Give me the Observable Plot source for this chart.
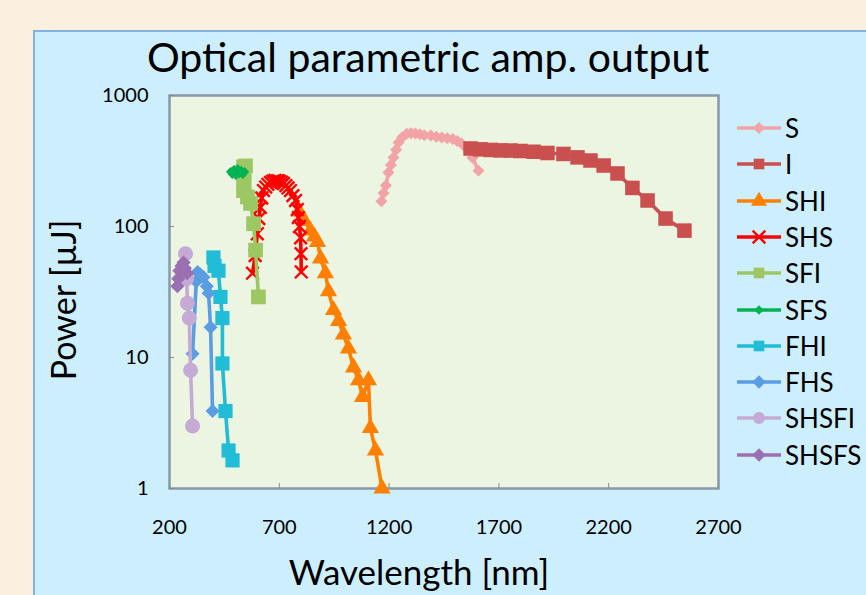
<!DOCTYPE html>
<html>
<head>
<meta charset="utf-8">
<script src="https://cdn.jsdelivr.net/npm/d3@7"></script>
<script src="https://cdn.jsdelivr.net/npm/@observablehq/plot@0.6"></script>
<style>
html,body{margin:0;padding:0;width:866px;height:595px;overflow:hidden;background:#fbefdf;font-family:Lato,"Open Sans",sans-serif;}
#panel{position:absolute;left:33px;top:30px;width:850px;height:590px;background:#cdeefd;border:2px solid #82b3df;box-sizing:border-box;}
#chart{position:absolute;left:0;top:0;}
#title{position:absolute;left:0;width:856px;top:36px;text-align:center;font-size:41px;line-height:41px;color:#000;}
#legend{position:absolute;left:736px;top:0;}
.row{position:absolute;left:0;height:26px;display:flex;align-items:center;white-space:nowrap;font-size:26px;color:#000;}
.row svg{display:block;margin-right:3px;}
</style>
</head>
<body>
<div id="panel"></div>
<div id="chart"></div>
<div id="title">Optical parametric amp. output</div>
<div id="legend"></div>
<script>
// ---- data (wavelength nm, power µJ) ----
const seriesNames = ["S","I","SHI","SHS","SFI","SFS","FHI","FHS","SHSFI","SHSFS"];

const sX = [1165,1175,1185,1197,1208,1220,1232,1243,1260,1280,1300,1320,1340,1360,1390,1415,1440,1465,1490,1510,1530,1555,1580,1607];
const sY = [156,180,206,258,295,336,385,437,480,510,515,512,505,498,495,485,478,472,465,450,430,390,335,267];

const iX = [1571,1616,1662,1707,1753,1798,1858,1921,1994,2058,2117,2177,2240,2308,2377,2459,2545];
const iY = [394,388,384,381,380,377,372,364,358,337,319,292,254,197,158,115,93];

const shiX = [790,815,842,860,874,888,910,924,947,970,992,1015,1038,1061,1079,1106,1115,1138,1168];
const shiY = [130,110,93,84,76,57,44,32,23,19,15,11.7,8.4,6.7,5.0,6.7,2.9,1.95,1.0];

const shsX = [578,590,600,607,614,620,628,638,648,660,670,680,692,700,710,719,730,740,751,762,774,782,787,792,797,799,800];
const shsY = [44,60,88,115,140,165,188,200,210,217,222,225,224,222,218,213,205,197,188,172,158,135,117,100,82,62,45];

const sfiX = [537,546,540,537,540,537,555,569,583,592,605];
const sfiY = [285,290,262,237,210,188,168,150,105,66,29];

const sfsX = [478,486,494,502,510,518,526,534,542];
const sfsY = [262,250,272,246,276,254,268,250,262];

const fhiX = [400,405,423,432,441,441,455,469,487];
const fhiY = [58,50,46,29,20,9,3.9,1.95,1.64];

const fhsX = [305,322,328,340,355,370,378,387,396];
const fhsY = [10.7,38,45,43,41,35,31,17,3.9];

const shsfiX = [273,278,282,290,296,305];
const shsfiY = [62,40,26,20,8,3];

const shsfsX = [236,240,245,255,264,270,280];
const shsfsY = [35,40,46,50,53,48,44];

const xTicks = [200,700,1200,1700,2200,2700];
const yTicks = [1,10,100,1000];

const xTitle = "Wavelength [nm]";
const yTitle = "Power [µJ]";

// ---- styles (kept separate from data) ----
const styles = {
  S:     {color:"#f2a3a6", symbol:"diamond2", r:5.4, fillMarker:true},
  I:     {color:"#c9504f", symbol:"square",   r:8.2, fillMarker:true},
  SHI:   {color:"#ff7f00", symbol:"triangle", r:6.4, fillMarker:true},
  SHS:   {color:"#ff0000", symbol:"times",    r:5.8, fillMarker:false},
  SFI:   {color:"#9cc763", symbol:"square",   r:8.3, fillMarker:true},
  SFS:   {color:"#00b352", symbol:"diamond2", r:4.2, fillMarker:true},
  FHI:   {color:"#21bcd5", symbol:"square",   r:8.0, fillMarker:true},
  FHS:   {color:"#5b9de3", symbol:"diamond2", r:6.3, fillMarker:true},
  SHSFI: {color:"#c4aad5", symbol:"circle",   r:7.5, fillMarker:true},
  SHSFS: {color:"#9a70b3", symbol:"diamond2", r:6.4, fillMarker:true}
};
const lineWidth = 3.6;

const xsList = [sX,iX,shiX,shsX,sfiX,sfsX,fhiX,fhsX,shsfiX,shsfsX];
const ysList = [sY,iY,shiY,shsY,sfiY,sfsY,fhiY,fhsY,shsfiY,shsfsY];

const rows = [];
seriesNames.forEach((name, k) => {
  xsList[k].forEach((x, j) => rows.push({series: name, x, y: ysList[k][j]}));
});

const marks = [
  Plot.frame({fill:"#ebf5e2", stroke:"#8798ab", strokeWidth:2.5}),
  Plot.axisX({ticks:xTicks, tickFormat:d=>String(d), tickSize:-5, tickPadding:36, stroke:"#8a8a8a", fill:"#000", fontSize:20, label:null}),
  Plot.axisY({ticks:yTicks, tickFormat:d=>String(d), tickSize:-5, tickPadding:26, stroke:"#8a8a8a", fill:"#000", fontSize:20, label:null}),
  Plot.text([xTitle], {frameAnchor:"bottom", dx:-25, dy:96, fontSize:35, fill:"#000"}),
  Plot.text([yTitle], {frameAnchor:"left", textAnchor:"middle", dx:-104, dy:8, rotate:-90, fontSize:34, fill:"#000"})
];
seriesNames.forEach(name => {
  const st = styles[name];
  const d = rows.filter(r => r.series === name);
  marks.push(Plot.line(d, {x:"x", y:"y", stroke:st.color, strokeWidth:lineWidth}));
  marks.push(Plot.dot(d, st.fillMarker
    ? {x:"x", y:"y", symbol:()=>st.symbol, fill:st.color, stroke:"none", r:st.r}
    : {x:"x", y:"y", symbol:()=>st.symbol, stroke:st.color, strokeWidth:2.4, r:st.r}));
});

const chart = Plot.plot({
  width:866, height:595,
  marginLeft:169, marginRight:148, marginTop:95, marginBottom:107,
  style:{background:"transparent", fontFamily:"Lato, 'Open Sans', sans-serif", color:"#000"},
  x:{domain:[200,2700]},
  y:{type:"log", domain:[1,1000]},
  symbol:{type:"identity"},
  marks
});
document.getElementById("chart").appendChild(chart);

// ---- legend ----
const legend = document.getElementById("legend");
const symGen = {diamond2:d3.symbolDiamond2, square:d3.symbolSquare, triangle:d3.symbolTriangle, times:d3.symbolTimes, circle:d3.symbolCircle};
seriesNames.forEach((name, i) => {
  const st = styles[name];
  const row = document.createElement("div");
  row.className = "row";
  row.style.top = (115 + i * 36.3) + "px";
  const ns = "http://www.w3.org/2000/svg";
  const svg = document.createElementNS(ns, "svg");
  svg.setAttribute("width", 46); svg.setAttribute("height", 26);
  const ln = document.createElementNS(ns, "line");
  ln.setAttribute("x1", 1); ln.setAttribute("x2", 45); ln.setAttribute("y1", 13); ln.setAttribute("y2", 13);
  ln.setAttribute("stroke", st.color); ln.setAttribute("stroke-width", lineWidth);
  svg.appendChild(ln);
  const p = document.createElementNS(ns, "path");
  const rr = Math.min(st.r, 6);
  p.setAttribute("d", d3.symbol(symGen[st.symbol], Math.PI * rr * rr)());
  p.setAttribute("transform", "translate(23,13)");
  if (st.fillMarker) { p.setAttribute("fill", st.color); }
  else { p.setAttribute("fill", "none"); p.setAttribute("stroke", st.color); p.setAttribute("stroke-width", 2.4); }
  svg.appendChild(p);
  row.appendChild(svg);
  const t = document.createElement("span");
  t.textContent = name;
  row.appendChild(t);
  legend.appendChild(row);
});
</script>
</body>
</html>
